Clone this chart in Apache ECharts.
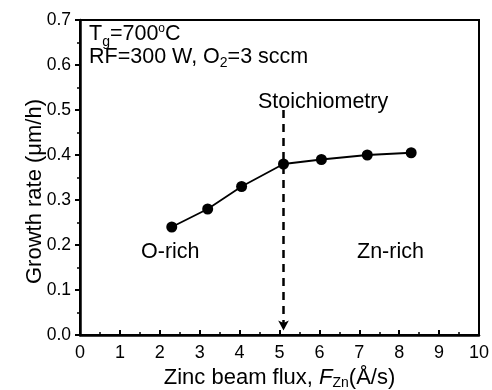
<!DOCTYPE html>
<html><head><meta charset="utf-8">
<script src="https://cdn.jsdelivr.net/npm/echarts@6/dist/echarts.min.js"></script>
<style>html,body{margin:0;padding:0;background:#fff}#c{width:492px;height:390px}</style>
</head><body><div id="c"></div>
<script>
const fluxX = [2.3, 3.2, 4.05, 5.1, 6.05, 7.2, 8.3];
const growthRate = [0.24, 0.28, 0.33, 0.38, 0.39, 0.40, 0.405];
const stoichX = 5.1;
const F = '"Liberation Sans", Arial, sans-serif';
const chart = echarts.init(document.getElementById('c'));
chart.setOption({
  animation:false,
  backgroundColor:'#fff',
  grid:{left:80,right:13,top:20,bottom:55,show:true,borderColor:'#000',borderWidth:2,backgroundColor:'transparent',containLabel:false,outerBoundsMode:'none'},
  xAxis:{type:'value',min:0,max:10,interval:1,
    axisLine:{lineStyle:{color:'#000',width:2.5}},
    axisTick:{inside:true,length:5,lineStyle:{color:'#000',width:2}},
    minorTick:{show:true,splitNumber:2,length:3,lineStyle:{color:'#000',width:1.5}},
    splitLine:{show:false},
    axisLabel:{color:'#000',fontSize:18,fontFamily:F,margin:9,formatter:v=>String(v)},
    name:'Zinc beam flux, {i|F}{s|Zn}(Å/s)',nameLocation:'middle',nameGap:30,nameMoveOverlap:false,
    nameTextStyle:{color:'#000',fontSize:22,fontFamily:F,rich:{i:{fontStyle:'italic',fontSize:22,fontFamily:F,color:'#000'},s:{fontSize:14,fontFamily:F,color:'#000',padding:[11,0,0,0]}}}
  },
  yAxis:{type:'value',min:0,max:0.7,interval:0.1,
    axisLine:{lineStyle:{color:'#000',width:2.5}},
    axisTick:{inside:false,length:5,lineStyle:{color:'#000',width:2}},
    minorTick:{show:true,splitNumber:2,length:3,lineStyle:{color:'#000',width:1.5}},
    splitLine:{show:false},
    axisLabel:{color:'#000',fontSize:17.5,fontFamily:F,margin:9,formatter:v=>v.toFixed(1)},
    name:'Growth rate (μm/h)',nameLocation:'middle',nameGap:34,nameMoveOverlap:false,
    nameTextStyle:{color:'#000',fontSize:22,fontFamily:F,padding:[0,28,0,0]}
  },
  series:[{type:'line',data:fluxX.map((x,i)=>[x,growthRate[i]]),
    symbol:'circle',symbolSize:11,
    lineStyle:{color:'#000',width:1.8},itemStyle:{color:'#000'},
    markLine:{silent:true,symbol:['none','arrow'],symbolSize:[8,10],
      lineStyle:{color:'#000',width:2.5,type:[8,6]},label:{show:false},
      data:[[{coord:[stoichX,0.5]},{coord:[stoichX,0.01]}]]}
  }],
  graphic:[
    {type:'text',left:89,top:23,style:{text:'T{s|g}=700{u|o}C',fontSize:21.5,fontFamily:F,fill:'#000',rich:{s:{fontSize:14,fontFamily:F,padding:[16,0,0,0]},u:{fontSize:12,fontFamily:F,padding:[0,0,11,0]}}}},
    {type:'text',left:89,top:46,style:{text:'RF=300 W, O{s|2}=3 sccm',fontSize:21.5,fontFamily:F,fill:'#000',rich:{s:{fontSize:14,fontFamily:F,padding:[13,0,0,0]}}}},
    {type:'text',left:258,top:91,style:{text:'Stoichiometry',fontSize:21.5,fontFamily:F,fill:'#000'}},
    {type:'text',left:141,top:241,style:{text:'O-rich',fontSize:21.5,fontFamily:F,fill:'#000'}},
    {type:'text',left:357,top:241,style:{text:'Zn-rich',fontSize:21.5,fontFamily:F,fill:'#000'}}
  ]
});
</script></body></html>
